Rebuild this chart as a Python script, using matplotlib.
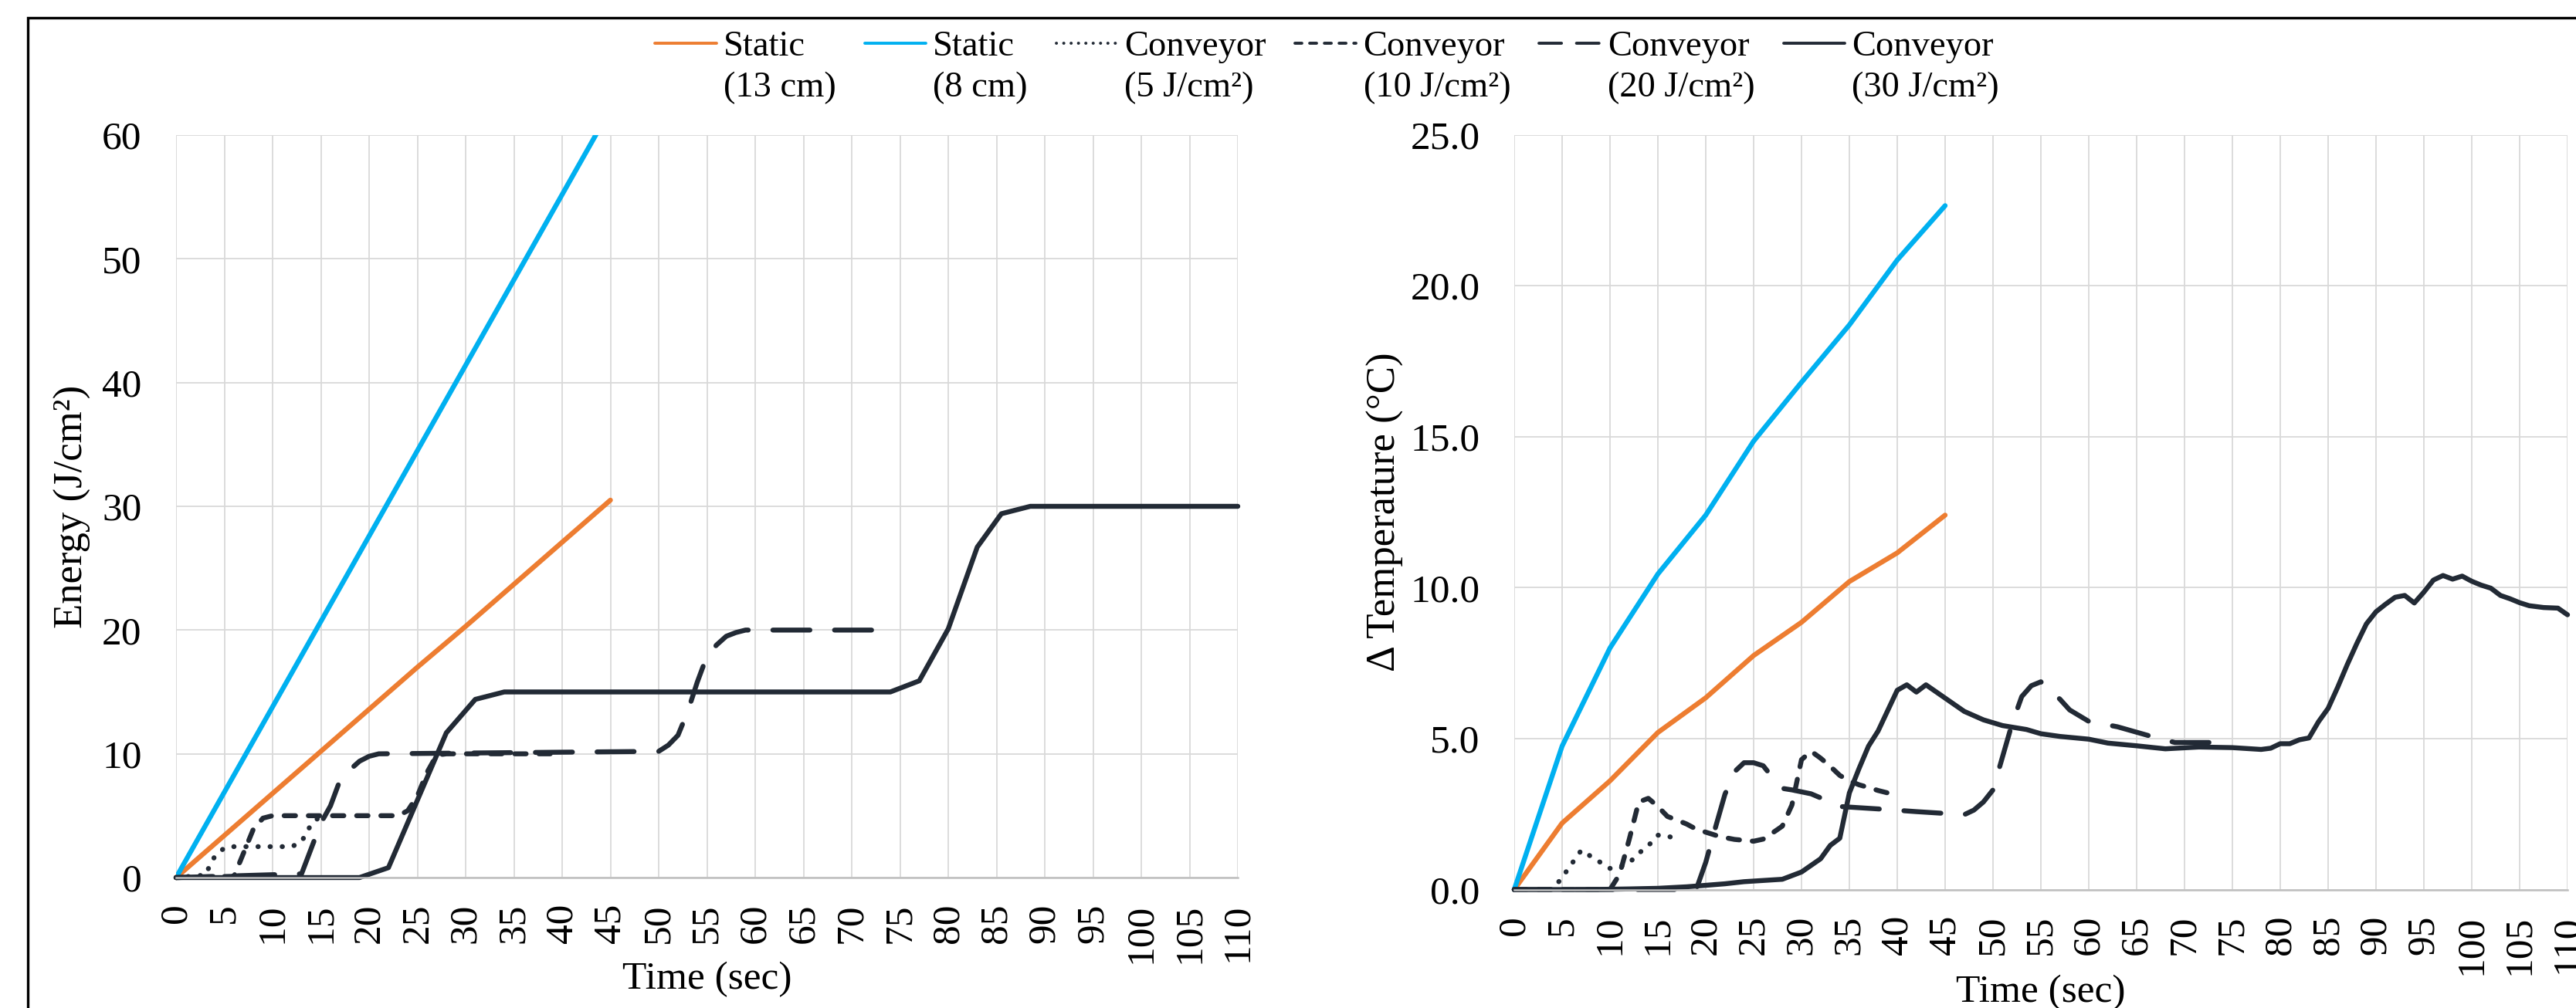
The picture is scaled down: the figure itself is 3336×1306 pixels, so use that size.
import numpy as np
import matplotlib
matplotlib.use("Agg")
import matplotlib.pyplot as plt
from matplotlib.lines import Line2D
from matplotlib.patches import Rectangle
from matplotlib.legend_handler import HandlerLine2D

plt.rcParams["font.family"] = ["Liberation Serif", "DejaVu Serif"]

# ---- series -------------------------------------------------------------
series_names = ["Static\n(13 cm)", "Static\n(8 cm)", "Conveyor\n(5 J/cm²)",
                "Conveyor\n(10 J/cm²)", "Conveyor\n(20 J/cm²)", "Conveyor\n(30 J/cm²)"]

# energy dose (J/cm2) vs time (s)
t_static = [0, 5, 10, 15, 20, 25, 30, 35, 40, 45]
energy_static_13 = [0, 3.4, 6.8, 10.2, 13.6, 17.0, 20.3, 23.7, 27.1, 30.5]
energy_static_8 = [0, 6.9, 13.8, 20.7, 27.6, 34.5, 41.4, 48.3, 55.2, 62.1]

t_e5 = [0, 3, 4, 5, 6, 12, 13, 14, 15]
energy_c5 = [0, 0.2, 1.7, 2.4, 2.5, 2.5, 2.9, 4.3, 5.0]

t_e10 = [0, 6, 7, 8, 9, 10, 23, 24, 25, 26, 27, 28, 40]
energy_c10 = [0, 0.1, 2.0, 3.9, 4.8, 5.0, 5.0, 5.4, 6.6, 8.5, 9.9, 10.0, 10.0]

t_e20 = [0, 13, 15, 16, 17, 18, 19, 20, 21, 50, 51, 52, 53, 54, 55, 56, 57, 58, 59, 74]
energy_c20 = [0, 0.3, 4.4, 5.8, 7.9, 8.7, 9.4, 9.8, 10.0, 10.2, 10.7, 11.5, 13.4,
              15.8, 17.9, 18.8, 19.5, 19.8, 20.0, 20.0]

t_e30 = [0, 19, 22, 28, 31, 34, 74, 77, 80, 83, 85.5, 88.5, 110]
energy_c30 = [0, 0, 0.8, 11.7, 14.4, 15.0, 15.0, 15.9, 20.1, 26.7, 29.4, 30.0, 30.0]

# surface temperature rise (deg C) vs time (s)
dtemp_static_13 = [0, 2.2, 3.6, 5.2, 6.35, 7.75, 8.85, 10.2, 11.15, 12.4]
dtemp_static_8 = [0, 4.75, 8.0, 10.45, 12.4, 14.85, 16.8, 18.7, 20.85, 22.65]

t_d5 = [0, 4, 5, 6, 7, 8, 9, 10, 11, 12, 13, 14, 15, 16, 17]
dtemp_c5 = [0, 0, 0.4, 0.85, 1.3, 1.1, 0.9, 0.7, 0.75, 0.88, 1.2, 1.45, 1.8, 1.78, 1.65]

t_d10 = [0, 10, 11, 12, 13, 14, 15, 16, 17, 18, 19, 20, 21, 22, 23, 24, 25,
         26, 27, 28, 29, 30, 31, 32, 33, 34, 35, 36, 37, 38, 39]
dtemp_c10 = [0, 0, 0.5, 1.65, 2.9, 3.02, 2.75, 2.42, 2.3, 2.17, 2.0, 1.9, 1.8, 1.72,
             1.66, 1.63, 1.6, 1.67, 1.88, 2.1, 2.8, 4.3, 4.58, 4.35, 4.08, 3.78,
             3.6, 3.47, 3.38, 3.28, 3.2]

t_d20 = [0, 19, 20, 21, 22, 23, 24, 25, 26, 27, 28, 29, 31, 33, 34, 38, 42, 47,
         48, 49, 50, 51, 52, 53, 54, 55, 56, 57, 58, 60, 63, 65, 67, 69, 73]
dtemp_c20 = [0, 0, 0.9, 2.04, 3.15, 3.9, 4.2, 4.2, 4.1, 3.7, 3.35, 3.3, 3.17, 2.9,
             2.75, 2.67, 2.58, 2.48, 2.63, 2.9, 3.3, 4.4, 5.5, 6.39, 6.75, 6.88,
             6.6, 6.3, 5.95, 5.57, 5.39, 5.21, 5.03, 4.87, 4.87]

t_d30 = [0, 8, 12, 15, 18, 20, 22, 24, 26, 28, 30, 32, 33, 34, 35, 36, 37, 38,
         40, 41, 42, 43, 45, 47, 49, 51, 53.5, 55, 57, 60, 62, 65, 68, 71.5, 75,
         78, 79, 80, 81, 82, 83, 84, 85, 86, 87, 88, 89, 90, 91, 92, 93, 94, 95,
         96, 97, 98, 99, 100, 101, 102, 103, 104, 105, 106, 107.5, 109, 110]
dtemp_c30 = [0, 0, 0.02, 0.04, 0.09, 0.14, 0.19, 0.26, 0.3, 0.34, 0.58, 1.02, 1.46,
             1.7, 3.2, 4.0, 4.75, 5.25, 6.6, 6.78, 6.54, 6.78, 6.34, 5.9, 5.62,
             5.43, 5.3, 5.16, 5.07, 4.98, 4.85, 4.76, 4.66, 4.72, 4.7, 4.64, 4.68,
             4.83, 4.83, 4.96, 5.02, 5.56, 6.0, 6.7, 7.45, 8.15, 8.8, 9.2, 9.45,
             9.68, 9.74, 9.49, 9.85, 10.25, 10.4, 10.28, 10.38, 10.21, 10.08, 9.98,
             9.74, 9.63, 9.5, 9.4, 9.34, 9.32, 9.1]

x_ticks = list(range(0, 111, 5))
energy_ticks = [0, 10, 20, 30, 40, 50, 60]
dtemp_ticks = [0, 5, 10, 15, 20, 25]

# ---- styles -------------------------------------------------------------
ORANGE = "#ED7D31"
BLUE = "#00B0F0"
NAVY = "#222A35"
GRID = "#D9D9D9"
LW = 4.6
LEG_SPACING = 1.35

styles = [
    dict(color=ORANGE, linestyle="-"),
    dict(color=BLUE, linestyle="-"),
    dict(color=NAVY, linestyle=(0, (0.05, 2.4))),
    dict(color=NAVY, linestyle=(0, (2.3, 2.6))),
    dict(color=NAVY, linestyle=(0, (7.5, 5.0))),
    dict(color=NAVY, linestyle="-"),
]


class FirstLineHandler(HandlerLine2D):
    """Legend handle drawn level with the first line of a two-line label."""

    def create_artists(self, legend, orig_handle, xdescent, ydescent, width,
                       height, fontsize, trans):
        artists = super().create_artists(legend, orig_handle, xdescent, ydescent,
                                         width, height, fontsize, trans)
        for a in artists:
            a.set_ydata(np.asarray(a.get_ydata(), float)
                        + 0.5 * LEG_SPACING * fontsize)
        return artists


def style_axes(ax, yticks, ylim, fmt):
    ax.set_xlim(0, 110)
    ax.set_ylim(*ylim)
    ax.set_xticks(x_ticks)
    ax.set_xticklabels([str(v) for v in x_ticks], rotation=90)
    ax.set_yticks(yticks)
    ax.set_yticklabels([fmt.format(v) for v in yticks])
    ax.grid(True, color=GRID, linewidth=1.3)
    ax.set_axisbelow(True)
    for side in ("top", "right", "left"):
        ax.spines[side].set_visible(False)
    ax.spines["bottom"].set_color("#BFBFBF")
    ax.spines["bottom"].set_linewidth(1.8)
    ax.tick_params(axis="x", length=0, pad=24, labelsize=37)
    ax.tick_params(axis="y", length=0, pad=32, labelsize=37)


def draw(ax, xs, ys, style, clip=False):
    ln, = ax.plot(xs, ys, linewidth=LW, solid_joinstyle="round",
                  dash_joinstyle="round", dash_capstyle="round",
                  solid_capstyle="round", clip_on=clip, **style)
    return ln


fig = plt.figure(figsize=(33.37, 13.06), dpi=100)

# left: delivered energy
ax1 = fig.add_axes([0.06833, 0.1294, 0.41205, 0.7366])
lines = [
    draw(ax1, t_static, energy_static_13, styles[0]),
    draw(ax1, t_static, energy_static_8, styles[1], clip=True),
    draw(ax1, t_e5, energy_c5, styles[2]),
    draw(ax1, t_e10, energy_c10, styles[3]),
    draw(ax1, t_e20, energy_c20, styles[4]),
    draw(ax1, t_e30, energy_c30, styles[5]),
]
style_axes(ax1, energy_ticks, (0, 60), "{:d}")
ax1.set_xlabel("Time (sec)", fontsize=37)
ax1.set_ylabel("Energy (J/cm²)", fontsize=38)
ax1.xaxis.set_label_coords(0.5, -0.113)
ax1.yaxis.set_label_coords(-0.080, 0.5)

# right: temperature rise
ax2 = fig.add_axes([0.58765, 0.11753, 0.40875, 0.74885])
draw(ax2, t_static, dtemp_static_13, styles[0])
draw(ax2, t_static, dtemp_static_8, styles[1])
draw(ax2, t_d5, dtemp_c5, styles[2])
draw(ax2, t_d10, dtemp_c10, styles[3])
draw(ax2, t_d20, dtemp_c20, styles[4])
draw(ax2, t_d30, dtemp_c30, styles[5])
style_axes(ax2, dtemp_ticks, (0, 25), "{:.1f}")
ax2.set_xlabel("Time (sec)", fontsize=37)
ax2.set_ylabel("Δ Temperature (°C)", fontsize=38)
ax2.xaxis.set_label_coords(0.5, -0.113)
ax2.yaxis.set_label_coords(-0.105, 0.5)

leg = fig.legend(lines, series_names, ncol=6, loc="upper center",
                 bbox_to_anchor=(0.515, 0.995), frameon=False, fontsize=33.5,
                 handlelength=1.7, handletextpad=0.2, columnspacing=0.8,
                 borderpad=0.2, handler_map={Line2D: FirstLineHandler()})
for ln in leg.get_lines():
    ln.set_linewidth(2.8)
for txt in leg.get_texts():
    txt.set_linespacing(LEG_SPACING)

# outer frame
fig.add_artist(Rectangle((36 / 3337, -0.5), 2.0, 1.5 - 23 / 1306,
                         transform=fig.transFigure, fill=False,
                         edgecolor="black", linewidth=2.4, zorder=0))

fig.savefig("out.png", dpi=100)
